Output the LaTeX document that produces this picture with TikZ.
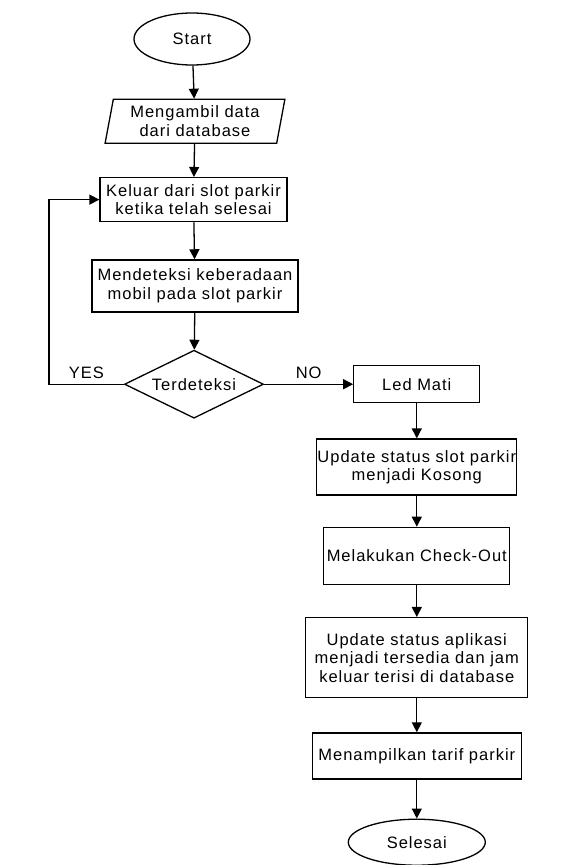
\documentclass[tikz,border=0pt]{standalone}
\usepackage{fontspec}
\setmainfont[LetterSpace=6]{Liberation Sans}
\usepackage{tikz}
\usetikzlibrary{shapes.geometric, arrows.meta, positioning}

\begin{document}
\begin{tikzpicture}[
    x=1pt, y=1pt,
    node distance=33pt and 89pt,
    every node/.style={font=\fontsize{16.5}{18.5}\selectfont},
    box/.style={rectangle, draw, line width=1.3pt, align=center, inner sep=0pt},
    terminal/.style={ellipse, draw, line width=1.3pt, inner sep=0pt},
    io/.style={trapezium, trapezium left angle=78, trapezium right angle=102, trapezium stretches=true, draw, line width=1.3pt, align=center, inner sep=0pt},
    decision/.style={diamond, draw, line width=1.3pt, aspect=2, inner sep=0pt},
    arrow/.style={-{Triangle[length=10pt, width=10pt]}, line width=1.3pt},
]
\useasboundingbox (0,0) rectangle (563,-865);

% Left column
\node[terminal, minimum width=116pt, minimum height=52pt] (start) at (192,-39) {Start};
\node[io, minimum width=180pt, minimum height=44pt, below=of start, xshift=3pt] (data) {Mengambil data\\dari database};
\node[box, minimum width=187pt, minimum height=44pt, below=of data, xshift=-1.5pt] (keluar) {Keluar dari slot parkir\\ketika telah selesai};
\node[box, minimum width=206pt, minimum height=52pt, below=37pt of keluar, xshift=1.5pt] (deteksi) {Mendeteksi keberadaan\\mobil pada slot parkir};
\node[decision, minimum width=139pt, minimum height=68pt, below=37pt of deteksi, xshift=-1pt] (cek) {Terdeteksi};

% Right column
\node[box, minimum width=126pt, minimum height=37pt, right=of cek] (led) {Led Mati};
\node[box, minimum width=200pt, minimum height=56pt, below=35pt of led] (slot) {Update status slot parkir\\menjadi Kosong};
\node[box, minimum width=186pt, minimum height=57pt, below=31pt of slot] (checkout) {Melakukan Check-Out};
\node[box, minimum width=222pt, minimum height=80pt, below=32pt of checkout] (aplikasi) {Update status aplikasi\\menjadi tersedia dan jam\\keluar terisi di database};
\node[box, minimum width=209pt, minimum height=46pt, below=34pt of aplikasi] (tarif) {Menampilkan tarif parkir};
\node[terminal, minimum width=137pt, minimum height=46pt, below=39pt of tarif] (selesai) {Selesai};

% Arrows
\draw[arrow] (start) -- (data);
\draw[arrow] (data) -- (keluar);
\draw[arrow] (keluar) -- (deteksi);
\draw[arrow] (deteksi) -- (cek);
\draw[arrow] (cek.west) -- node[above=2pt] (yes) {YES} ++(-75,0) |- (keluar.west);
\draw[arrow] (cek.east) -- node[above=2pt] (no) {NO} (led.west);
\draw[arrow] (led) -- (slot);
\draw[arrow] (slot) -- (checkout);
\draw[arrow] (checkout) -- (aplikasi);
\draw[arrow] (aplikasi) -- (tarif);
\draw[arrow] (tarif) -- (selesai);

\end{tikzpicture}
\end{document}
